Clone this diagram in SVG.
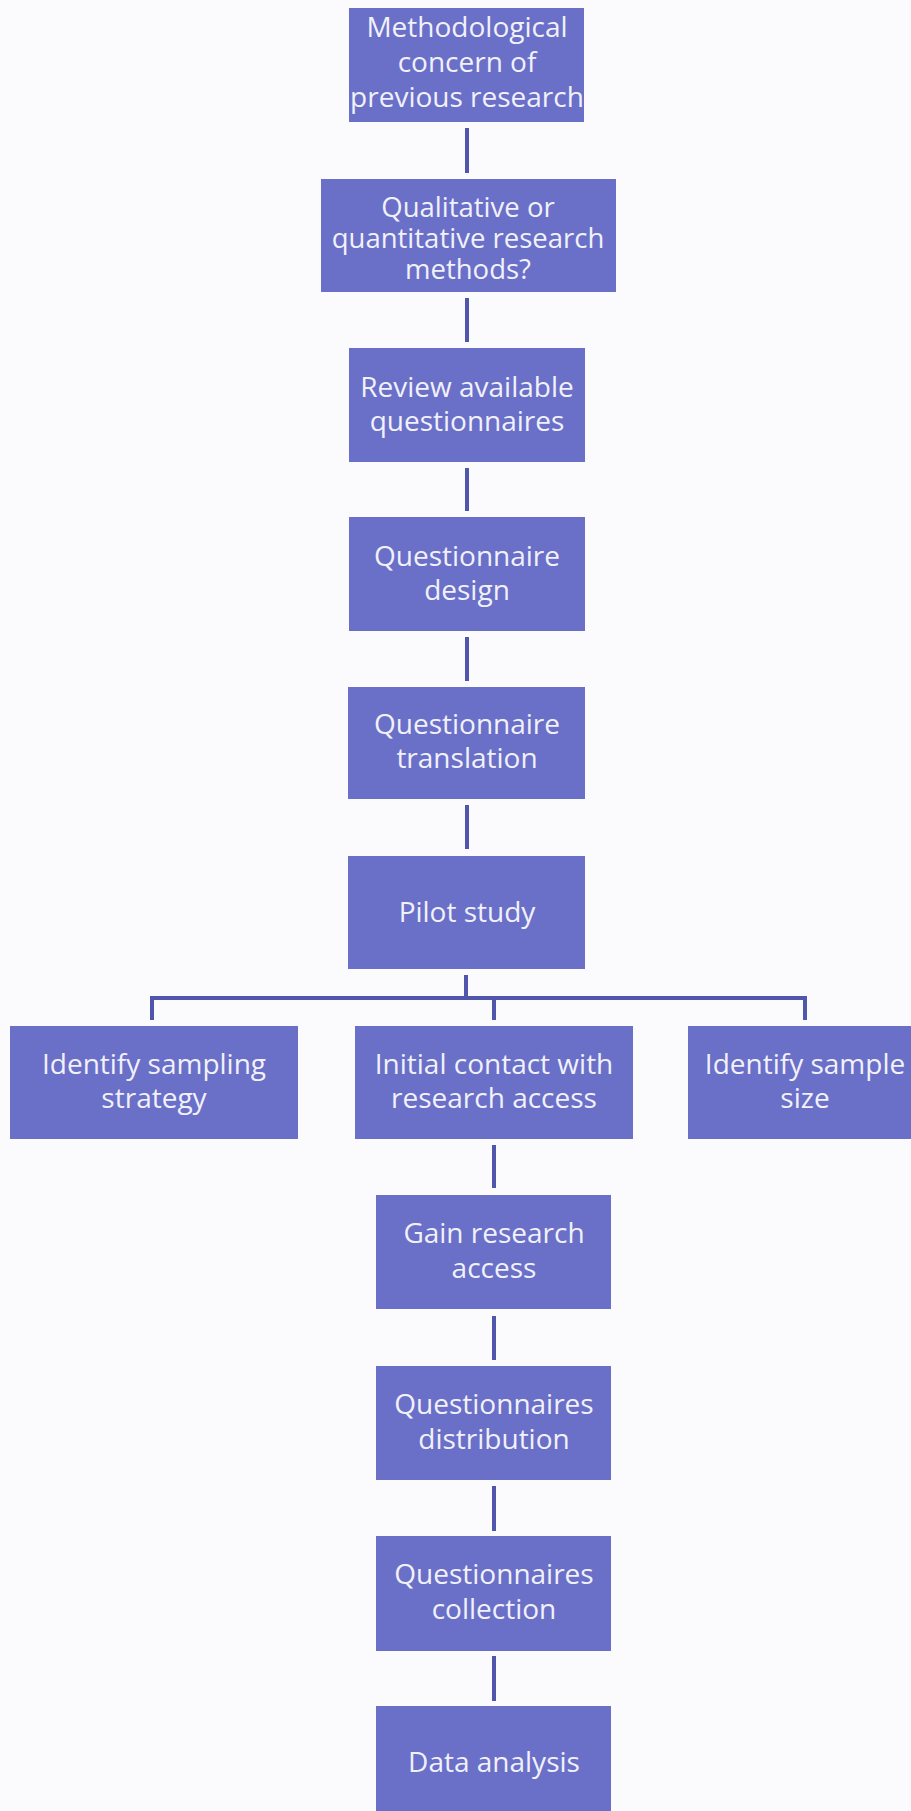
<svg xmlns="http://www.w3.org/2000/svg" width="911" height="1811" viewBox="0 0 911 1811">
  <style>
    .box { fill: #6a6fc8; }
    .lbl { font-family: "Open Sans", "Liberation Sans", sans-serif; font-size: 28px; fill: #f1f1fa; text-anchor: middle; }
    .tight { font-size: 27.5px; }
    .link { fill: none; stroke: #5156ad; stroke-width: 4; stroke-linecap: butt; stroke-linejoin: miter; }
  </style>
  <rect width="911" height="1811" fill="#fbfbfd"/>

  <!-- connectors -->
  <g id="connectors">
    <path class="link" d="M467 128V173"/>
    <path class="link" d="M467 298V342"/>
    <path class="link" d="M467 468V511"/>
    <path class="link" d="M467 637V681"/>
    <path class="link" d="M467 805V849"/>
    <path class="link" d="M466 975V998"/>
    <path class="link" d="M152 1020V998H805V1020"/>
    <path class="link" d="M494 998V1020"/>
    <path class="link" d="M494 1145V1188"/>
    <path class="link" d="M494 1316V1360"/>
    <path class="link" d="M494 1486V1531"/>
    <path class="link" d="M494 1656V1701"/>
  </g>

  <g id="n-methodological">
    <rect class="box" x="349" y="8" width="235" height="114"/>
    <text class="lbl" x="467" y="37">Methodological</text>
    <text class="lbl" x="467" y="72">concern of</text>
    <text class="lbl" x="467" y="107">previous research</text>
  </g>

  <g id="n-methods">
    <rect class="box" x="321" y="179" width="295" height="113"/>
    <text class="lbl tight" x="468" y="217">Qualitative or</text>
    <text class="lbl tight" x="468" y="248">quantitative research</text>
    <text class="lbl tight" x="468" y="279">methods?</text>
  </g>

  <g id="n-review">
    <rect class="box" x="349" y="348" width="236" height="114"/>
    <text class="lbl" x="467" y="397">Review available</text>
    <text class="lbl" x="467" y="431">questionnaires</text>
  </g>

  <g id="n-design">
    <rect class="box" x="349" y="517" width="236" height="114"/>
    <text class="lbl" x="467" y="566">Questionnaire</text>
    <text class="lbl" x="467" y="600">design</text>
  </g>

  <g id="n-translation">
    <rect class="box" x="348" y="687" width="237" height="112"/>
    <text class="lbl" x="467" y="734">Questionnaire</text>
    <text class="lbl" x="467" y="768">translation</text>
  </g>

  <g id="n-pilot">
    <rect class="box" x="348" y="856" width="237" height="113"/>
    <text class="lbl" x="467" y="922">Pilot study</text>
  </g>

  <g id="n-sampling">
    <rect class="box" x="10" y="1026" width="288" height="113"/>
    <text class="lbl" x="154" y="1074">Identify sampling</text>
    <text class="lbl" x="154" y="1108">strategy</text>
  </g>

  <g id="n-contact">
    <rect class="box" x="355" y="1026" width="278" height="113"/>
    <text class="lbl" x="494" y="1074">Initial contact with</text>
    <text class="lbl" x="494" y="1108">research access</text>
  </g>

  <g id="n-size">
    <rect class="box" x="688" y="1026" width="234" height="113"/>
    <text class="lbl" x="805" y="1074">Identify sample</text>
    <text class="lbl" x="805" y="1108">size</text>
  </g>

  <g id="n-gain">
    <rect class="box" x="376" y="1195" width="235" height="114"/>
    <text class="lbl" x="494" y="1243">Gain research</text>
    <text class="lbl" x="494" y="1278">access</text>
  </g>

  <g id="n-distribution">
    <rect class="box" x="376" y="1366" width="235" height="114"/>
    <text class="lbl" x="494" y="1414">Questionnaires</text>
    <text class="lbl" x="494" y="1449">distribution</text>
  </g>

  <g id="n-collection">
    <rect class="box" x="376" y="1536" width="235" height="115"/>
    <text class="lbl" x="494" y="1584">Questionnaires</text>
    <text class="lbl" x="494" y="1619">collection</text>
  </g>

  <g id="n-analysis">
    <rect class="box" x="376" y="1706" width="235" height="114"/>
    <text class="lbl" x="494" y="1772">Data analysis</text>
  </g>
</svg>
